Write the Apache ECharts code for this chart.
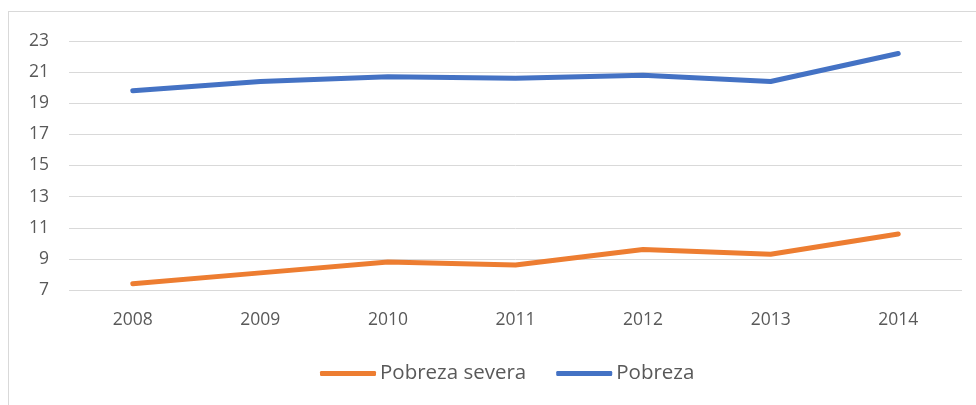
<!DOCTYPE html>
<html>
<head>
<meta charset="utf-8">
<script src="https://cdn.jsdelivr.net/npm/echarts@6/dist/echarts.min.js"></script>
<style>
  html, body { margin: 0; padding: 0; background: #fff; }
  #chart { width: 976px; height: 405px; position: relative; }
  .frame {
    position: absolute; left: 8px; top: 11px; width: 975px; height: 400px;
    border: 1px solid #d9d9d9; box-sizing: border-box; pointer-events: none;
  }
</style>
</head>
<body>
<div id="chart"></div>
<div class="frame"></div>
<script>
const years = ["2008", "2009", "2010", "2011", "2012", "2013", "2014"];
const pobrezaSevera = [7.4, 8.1, 8.8, 8.6, 9.6, 9.3, 10.6];
const pobreza = [19.8, 20.4, 20.7, 20.6, 20.8, 20.4, 22.2];

const chart = echarts.init(document.getElementById("chart"));
const txt = { color: "#595959", fontSize: 17.5, fontFamily: "Open Sans" };

chart.setOption({
  animation: false,
  grid: { left: 69, right: 14, top: 41, bottom: 115 },
  legend: {
    top: 358,
    left: 315,
    icon: "roundRect",
    itemWidth: 56,
    itemHeight: 5,
    itemGap: 30,
    textStyle: { color: "#595959", fontSize: 20.5, fontFamily: "Open Sans", padding: [0, 0, 0, -1] },
    data: ["Pobreza severa", "Pobreza"]
  },
  xAxis: {
    type: "category",
    data: years,
    boundaryGap: true,
    axisLine: { show: false },
    axisTick: { show: false },
    axisLabel: Object.assign({ margin: 21 }, txt)
  },
  yAxis: {
    type: "value",
    min: 7,
    max: 23,
    interval: 2,
    axisLine: { show: false },
    axisTick: { show: false },
    axisLabel: Object.assign({ margin: 20 }, txt),
    splitLine: { lineStyle: { color: "#d9d9d9", width: 1 } }
  },
  series: [
    {
      name: "Pobreza severa",
      type: "line",
      data: pobrezaSevera,
      symbol: "none",
      itemStyle: { color: "#ed7d31" },
      lineStyle: { color: "#ed7d31", width: 5, cap: "round", join: "round" }
    },
    {
      name: "Pobreza",
      type: "line",
      data: pobreza,
      symbol: "none",
      itemStyle: { color: "#4472c4" },
      lineStyle: { color: "#4472c4", width: 5, cap: "round", join: "round" }
    }
  ]
});
</script>
</body>
</html>
